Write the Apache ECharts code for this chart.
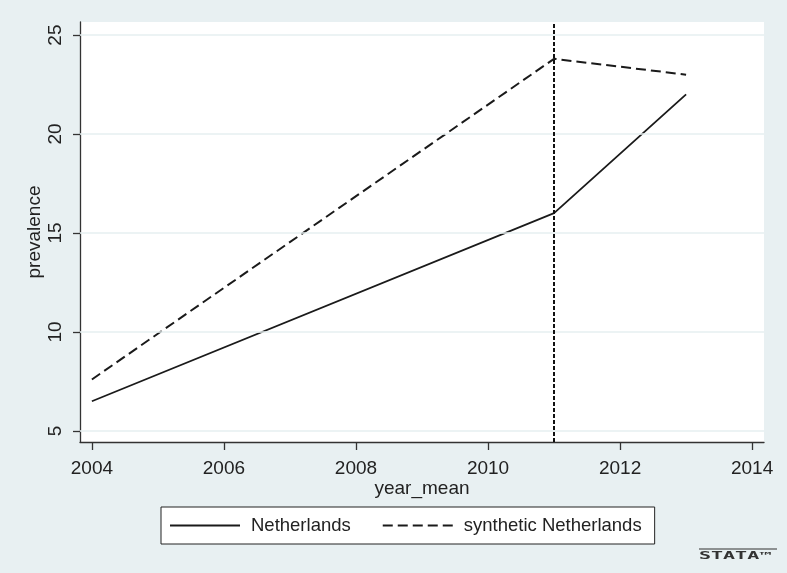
<!DOCTYPE html>
<html>
<head>
<meta charset="utf-8">
<script src="https://cdn.jsdelivr.net/npm/echarts@6/dist/echarts.min.js"></script>
<style>
html,body{margin:0;padding:0;background:#e8f0f2;}
#c{width:787px;height:573px;}
</style>
</head>
<body>
<div id="c"></div>
<script>
const years = [2004, 2011, 2013];
const netherlands = [6.5, 16.0, 22.0];
const synthetic = [7.6, 23.8, 23.0];
const treatmentYear = 2011;
const xTicks = [2004, 2006, 2008, 2010, 2012, 2014];
const yTicks = [5, 10, 15, 20, 25];
const seriesNames = ['Netherlands', 'synthetic Netherlands'];

const FONT = 'Liberation Sans, Arial, sans-serif';
const chart = echarts.init(document.getElementById('c'));
chart.setOption({
  backgroundColor: '#e8f0f2',
  animation: false,
  grid: {left: 80, top: 22, right: 23, bottom: 131, show: true, backgroundColor: '#ffffff', borderWidth: 0},
  xAxis: {
    type: 'value', min: 2003.82, max: 2014.18,
    name: 'year_mean', nameLocation: 'middle', nameGap: 37, nameMoveOverlap: false,
    nameTextStyle: {fontFamily: FONT, fontSize: 19, color: '#222'},
    axisLine: {show: true, lineStyle: {color: '#333', width: 1.3}},
    axisTick: {show: true, length: 8, customValues: xTicks, lineStyle: {color: '#333', width: 1.3}},
    axisLabel: {customValues: xTicks, margin: 17, fontFamily: FONT, fontSize: 19, color: '#222',
      formatter: v => String(v)},
    splitLine: {show: false}
  },
  yAxis: {
    type: 'value', min: 4.44, max: 25.66,
    name: 'prevalence', nameLocation: 'middle', nameGap: 36, nameRotate: 90, nameMoveOverlap: false,
    nameTextStyle: {fontFamily: FONT, fontSize: 19, color: '#222'},
    axisLine: {show: true, lineStyle: {color: '#333', width: 1.3}},
    axisTick: {show: true, length: 7, customValues: yTicks, lineStyle: {color: '#333', width: 1.3}},
    axisLabel: {customValues: yTicks, rotate: 90, margin: 15, fontFamily: FONT, fontSize: 19, color: '#222'},
    splitLine: {show: false}
  },
  legend: {
    data: seriesNames,
    left: 161, top: 507,
    padding: [9, 13, 9, 8],
    itemGap: 31, itemWidth: 70, itemHeight: 20,
    backgroundColor: '#ffffff', borderColor: '#222', borderWidth: 1,
    itemStyle: {color: 'rgba(0,0,0,0)', borderWidth: 0, opacity: 0},
    textStyle: {fontFamily: FONT, fontSize: 18.5, color: '#222', padding: [0, 0, 0, 6]}
  },
  series: [
    {
      name: 'grid', type: 'line', data: [], silent: true,
      markLine: {
        silent: true, symbol: 'none', label: {show: false},
        lineStyle: {color: '#e6eff1', width: 1.5, type: 'solid'},
        data: yTicks.map(v => ({yAxis: v}))
      }
    },
    {
      name: seriesNames[0], type: 'line', symbol: 'none', showSymbol: false,
      data: years.map((y, i) => [y, netherlands[i]]),
      lineStyle: {color: '#1a1a1a', width: 1.8, type: 'solid'},
      itemStyle: {color: '#1a1a1a'},
      markLine: {
        silent: true, symbol: 'none', label: {show: false},
        lineStyle: {color: '#111', width: 2, type: [4, 2]},
        data: [{xAxis: treatmentYear}]
      }
    },
    {
      name: seriesNames[1], type: 'line', symbol: 'none', showSymbol: false,
      data: years.map((y, i) => [y, synthetic[i]]),
      lineStyle: {color: '#1a1a1a', width: 2, type: [10, 5]},
      itemStyle: {color: '#1a1a1a'}
    }
  ],
  graphic: [
    {type: 'line', shape: {x1: 699, y1: 549, x2: 777, y2: 549}, style: {stroke: '#333', lineWidth: 1.2}},
    {type: 'text', x: 699, y: 551, scaleX: 2.0, style: {text: 'STATA™', font: 'bold 10px DejaVu Sans Mono', fill: '#333'}}
  ]
});
</script>
</body>
</html>
